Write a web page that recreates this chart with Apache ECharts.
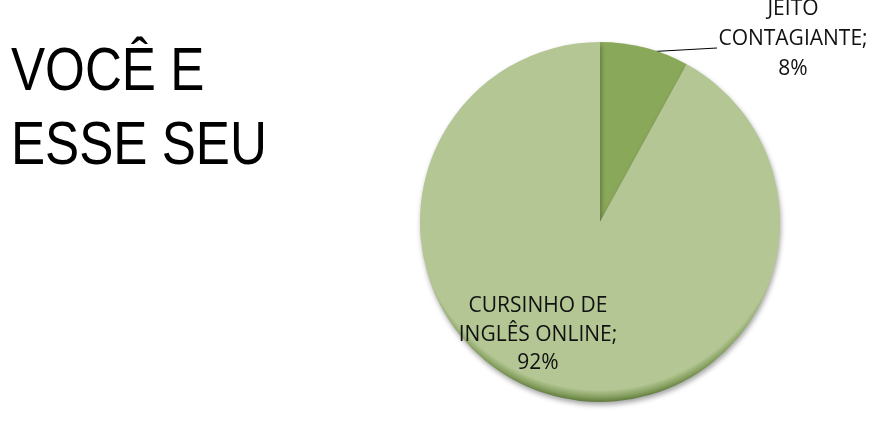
<!DOCTYPE html>
<html>
<head>
<meta charset="utf-8">
<script src="https://cdn.jsdelivr.net/npm/echarts@6/dist/echarts.min.js"></script>
<style>
html,body{margin:0;padding:0;background:#fff;}
#chart{width:872px;height:428px;}
</style>
</head>
<body>
<div id="chart"></div>
<script>
const titleLines = ['VOCÊ E', 'ESSE SEU'];
const categories = ['JEITO CONTAGIANTE', 'CURSINHO DE INGLÊS ONLINE'];
const values = [8, 92];
const labelTexts = ['JEITO\nCONTAGIANTE;\n8%', 'CURSINHO DE\nINGLÊS ONLINE;\n92%'];
const sliceColors = ['#8aa85a', '#b3c693'];
const edgeColors = ['#6f8d42', '#86a060'];

const chart = echarts.init(document.getElementById('chart'));
const cx = 600, cy = 222, R = 180;

function grad(i) {
  return new echarts.graphic.RadialGradient(cx, cy - 18, R + 20, [
    {offset: 0, color: sliceColors[i]},
    {offset: 0.93, color: sliceColors[i]},
    {offset: 0.965, color: edgeColors[i]},
    {offset: 1, color: '#4f6a2e'}
  ], true);
}

chart.setOption({
  animation: false,
  graphic: [{
    type: 'text',
    x: 11,
    y: 36,
    scaleX: 0.825,
    silent: true,
    style: {
      text: titleLines.join('\n'),
      font: '62px "Liberation Sans", Arial, sans-serif',
      fill: '#000',
      lineHeight: 74,
      verticalAlign: 'top',
      align: 'left'
    }
  }],
  series: [{
    type: 'pie',
    center: [cx, cy],
    radius: [0, R],
    startAngle: 90,
    clockwise: true,
    silent: true,
    itemStyle: {
      borderWidth: 0,
      shadowBlur: 5,
      shadowOffsetX: 1,
      shadowOffsetY: 3,
      shadowColor: 'rgba(0,0,0,0.35)'
    },
    label: {
      fontFamily: '"Open Sans", "Noto Sans", sans-serif',
      fontSize: 21,
      color: '#111',
      align: 'center'
    },
    labelLine: {
      show: true,
      lineStyle: {color: '#000', width: 1}
    },
    labelLayout: function (p) {
      if (p.dataIndex === 0) {
        return {
          x: 793, y: 39, align: 'center', verticalAlign: 'middle',
          labelLinePoints: [[645, 52], [681, 50], [717, 48]]
        };
      }
      return {x: 538, y: 335, align: 'center', verticalAlign: 'middle'};
    },
    data: categories.map((c, i) => ({
      name: c,
      value: values[i],
      itemStyle: {color: grad(i)},
      label: {
        formatter: labelTexts[i],
        position: i === 0 ? 'outside' : 'inside',
        lineHeight: i === 0 ? 30 : 28.5
      },
      labelLine: {show: i === 0}
    }))
  }]
});
</script>
</body>
</html>
